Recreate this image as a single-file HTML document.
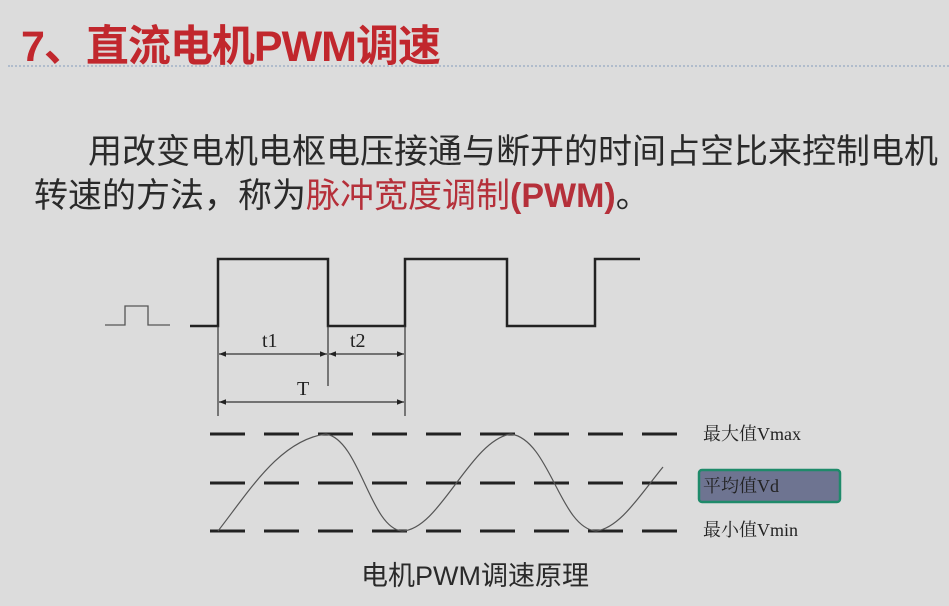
<!DOCTYPE html>
<html><head><meta charset="utf-8"><style>
html,body{margin:0;padding:0;}
body{width:949px;height:606px;background:#dcdcdc;position:relative;overflow:hidden;font-family:"Liberation Sans","Noto Sans CJK SC",sans-serif;}
.t{position:absolute;white-space:nowrap;}
</style></head><body>
<div class="t" style="left:21px;top:12px;font-size:43px;font-weight:bold;color:#c1272d;letter-spacing:-1px;">7、直流电机PWM调速</div>
<div style="position:absolute;left:8px;top:65px;width:941px;border-top:2px dotted #b0bccc;"></div>
<div class="t" style="left:88px;top:124px;font-size:34px;color:#2a2a2a;">用改变电机电枢电压接通与断开的时间占空比来控制电机</div>
<div class="t" style="left:34px;top:168px;font-size:34px;color:#2a2a2a;">转速的方法，称为<span style="color:#b5303a;">脉冲宽度调制</span><b style="color:#b5303a;">(PWM)</b>。</div>
<svg style="position:absolute;left:0;top:0" width="949" height="606">
<defs><marker id="a" viewBox="0 0 10 10" refX="10" refY="5" markerWidth="9" markerHeight="7" orient="auto-start-reverse" markerUnits="userSpaceOnUse"><path d="M0,1 L10,5 L0,9z" fill="#222"/></marker></defs>
<polyline points="105,325 125,325 125,306 148,306 148,325 170,325" fill="none" stroke="#555" stroke-width="1.3"/>
<polyline points="190,326 218,326 218,259 328,259 328,326 405,326 405,259 507,259 507,326 595,326 595,259 640,259" fill="none" stroke="#222" stroke-width="2.5"/>
<g stroke="#333" stroke-width="1.2">
<line x1="218" y1="326" x2="218" y2="416"/><line x1="405" y1="326" x2="405" y2="416"/><line x1="328" y1="326" x2="328" y2="386"/>
<line x1="219" y1="354" x2="327" y2="354" marker-start="url(#a)" marker-end="url(#a)"/>
<line x1="329" y1="354" x2="404" y2="354" marker-start="url(#a)" marker-end="url(#a)"/>
<line x1="219" y1="402" x2="404" y2="402" marker-start="url(#a)" marker-end="url(#a)"/>
</g>
<g font-family="Liberation Serif,serif" font-size="20" fill="#222">
<text x="262" y="347">t1</text><text x="350" y="347">t2</text><text x="297" y="395">T</text></g>
<g stroke="#222" stroke-width="3" stroke-dasharray="35 19">
<line x1="210" y1="434" x2="685" y2="434"/><line x1="210" y1="483" x2="685" y2="483"/><line x1="210" y1="531" x2="685" y2="531"/></g>
<path d="M218,531 C250,490 280,440 326,434 C360,440 370,528 402,531 C440,530 470,440 511,434 C550,440 560,528 596,531 C620,528 640,495 663,467" fill="none" stroke="#555" stroke-width="1.2"/>
<rect x="699" y="470" width="141" height="32" rx="3" fill="#6e7491" stroke="#1f8a6a" stroke-width="2.5"/>
<g font-family="Liberation Serif,'Noto Serif CJK SC',serif" font-size="18" fill="#222">
<text x="703" y="440">最大值Vmax</text><text x="703" y="492">平均值Vd</text><text x="703" y="536">最小值Vmin</text></g>
<text x="361" y="585" font-size="27" fill="#2a2a2a" font-family="Liberation Sans,'Noto Sans CJK SC',sans-serif">电机PWM调速原理</text>
</svg>
</body></html>
